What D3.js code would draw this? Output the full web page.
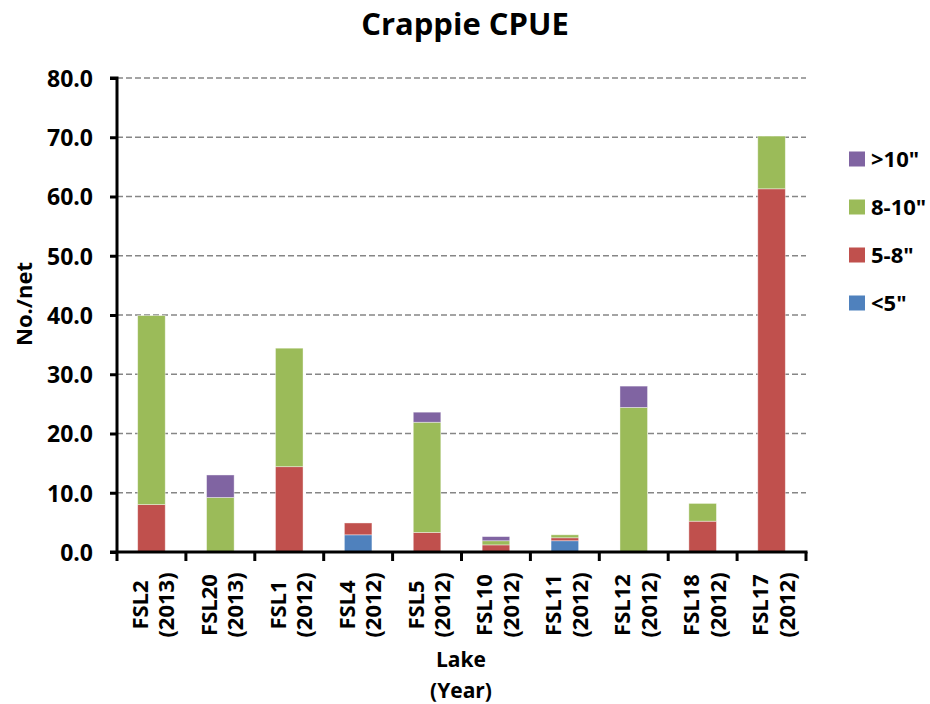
<!DOCTYPE html>
<html><head><meta charset="utf-8">
<script src="https://cdn.jsdelivr.net/npm/d3@7"></script>
<style>body{margin:0;background:#fff}svg{display:block}text{font-family:"Open Sans",Lato,sans-serif;font-weight:bold;fill:#000}</style>
</head><body>
<svg id="c" width="930" height="704"></svg>
<script>
const lakes = ["FSL2","FSL20","FSL1","FSL4","FSL5","FSL10","FSL11","FSL12","FSL18","FSL17"];
const years = ["(2013)","(2013)","(2012)","(2012)","(2012)","(2012)","(2012)","(2012)","(2012)","(2012)"];
const under5 = [0, 0, 0, 2.9, 0, 0, 1.9, 0, 0, 0];
const s5to8 = [8.0, 0, 14.4, 2.0, 3.3, 1.2, 0.5, 0, 5.2, 61.3];
const s8to10 = [31.9, 9.2, 20.0, 0, 18.6, 0.7, 0.5, 24.4, 3.0, 8.9];
const over10 = [0, 3.8, 0, 0, 1.7, 0.7, 0, 3.6, 0, 0];
const seriesNames = ['<5"', '5-8"', '8-10"', '>10"'];
const seriesColors = ["#4F81BD", "#C0504D", "#9BBB59", "#8064A2"];
const yTicks = [0,10,20,30,40,50,60,70,80];

const svg = d3.select("#c");
const L = 117, R = 806, T = 78, B = 552;
const x = d3.scaleBand().domain(d3.range(lakes.length)).range([L, R]).paddingInner(0).paddingOuter(0);
const y = d3.scaleLinear().domain([0, 80]).range([B, T]);

// gridlines
svg.append("g").selectAll("line").data(yTicks.filter(d => d > 0)).join("line")
  .attr("x1", L).attr("x2", R).attr("y1", d => y(d)).attr("y2", d => y(d))
  .attr("stroke", "#868686").attr("stroke-width", 1.5).attr("stroke-dasharray", "6,3");

// stacked bars
const rows = lakes.map((l, i) => ({i, a: under5[i], b: s5to8[i], c: s8to10[i], d: over10[i]}));
const stack = d3.stack().keys(["a","b","c","d"])(rows);
const bw = x.bandwidth() * 0.4;
svg.append("g").selectAll("g").data(stack).join("g")
  .attr("fill", (d, k) => seriesColors[k])
  .selectAll("rect").data(d => d.filter(p => p[1] - p[0] > 0)).join("rect")
  .attr("x", p => x(p.data.i) + (x.bandwidth() - bw) / 2)
  .attr("width", bw)
  .attr("y", p => y(p[1]))
  .attr("height", p => y(p[0]) - y(p[1]))
  .attr("stroke", "#ffffff").attr("stroke-opacity", 0.5).attr("stroke-width", 0.8);

// y axis
const yAxis = d3.axisLeft(y).tickValues(yTicks).tickFormat(d3.format(".1f")).tickSize(7).tickPadding(17);
const gy = svg.append("g").attr("transform", `translate(${L},0)`).call(yAxis);
gy.select(".domain").attr("stroke", "#000").attr("stroke-width", 3).attr("d", `M-7,${T}H0V${B}`);
gy.selectAll(".tick line").attr("stroke", "#000").attr("stroke-width", 3);
gy.selectAll(".tick text").style("font-size", "23px").style("font-family", "'Open Sans',sans-serif").style("font-weight", "bold").attr("fill", "#000").attr("dy", "0.36em");

// x axis line and ticks at category boundaries
svg.append("line").attr("x1", L - 7).attr("x2", R + 1.5).attr("y1", B).attr("y2", B).attr("stroke", "#000").attr("stroke-width", 3);
svg.append("g").selectAll("line").data(d3.range(lakes.length + 1)).join("line")
  .attr("x1", i => i < lakes.length ? x(i) : R).attr("x2", i => i < lakes.length ? x(i) : R)
  .attr("y1", B).attr("y2", B + 9).attr("stroke", "#000").attr("stroke-width", 3);

// x labels (rotated, two lines, centred)
const xl = svg.append("g").selectAll("g").data(lakes).join("g")
  .attr("transform", (d, i) => `translate(${x(i) + x.bandwidth() / 2},605) rotate(-90)`);
xl.append("text").attr("text-anchor", "middle").attr("x", 0).attr("y", -3.5).style("font-size", "22px").text(d => d);
xl.append("text").attr("text-anchor", "middle").attr("x", 0).attr("y", 23).style("font-size", "22px").text((d, i) => years[i]);

// axis titles
svg.append("text").attr("x", 461).attr("y", 667).attr("text-anchor", "middle").style("font-size", "21px").text("Lake");
svg.append("text").attr("x", 461).attr("y", 698).attr("text-anchor", "middle").style("font-size", "21px").text("(Year)");
svg.append("text").attr("transform", "translate(32,304) rotate(-90)").attr("text-anchor", "middle").style("font-size", "22px").text("No./net");

// title
svg.append("text").attr("x", 465).attr("y", 35).attr("text-anchor", "middle").style("font-size", "31px").text("Crappie CPUE");

// legend (top: >10")
const legOrder = [3, 2, 1, 0];
const lg = svg.append("g").selectAll("g").data(legOrder).join("g")
  .attr("transform", (k, j) => `translate(849,${159 + j * 48})`);
lg.append("rect").attr("x", 0).attr("y", -7.5).attr("width", 16).attr("height", 15).attr("fill", k => seriesColors[k]);
lg.append("text").attr("x", 22).attr("y", 0).attr("dy", "0.36em").style("font-size", "22px").text(k => seriesNames[k]);
</script>
</body></html>
